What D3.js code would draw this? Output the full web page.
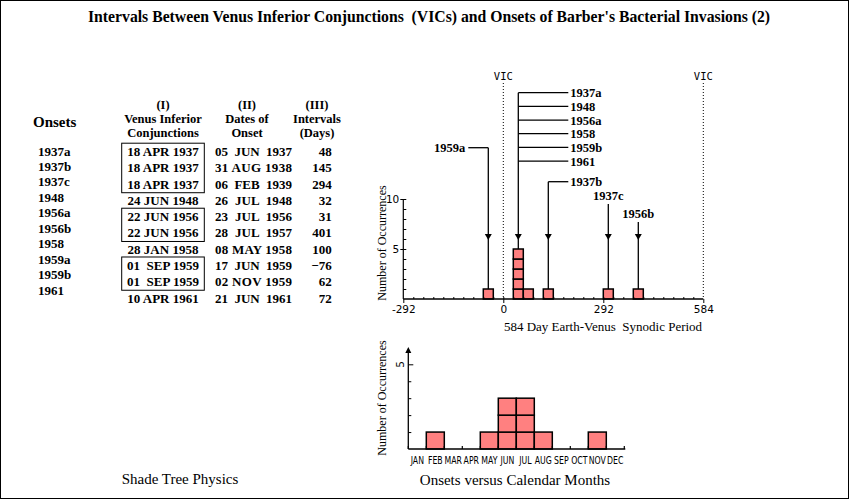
<!DOCTYPE html>
<html><head><meta charset="utf-8">
<script src="https://cdn.jsdelivr.net/npm/d3@7"></script>
<style>body{margin:0;background:#fff} svg{display:block} text{white-space:pre}</style>
</head><body><svg id="c" width="850" height="500"></svg>
<script>
// ---------- DATA ----------
const onsets      = ["1937a","1937b","1937c","1948","1956a","1956b","1958","1959a","1959b","1961"];
const vicDates    = ["18 APR 1937","18 APR 1937","18 APR 1937","24 JUN 1948","22 JUN 1956","22 JUN 1956","28 JAN 1958","01  SEP 1959","01  SEP 1959","10 APR 1961"];
const onsetDates  = ["05  JUN  1937","31 AUG 1938","06  FEB  1939","26  JUL  1948","23  JUL  1956","28  JUL  1957","08 MAY 1958","17  JUN  1959","02 NOV 1959","21  JUN  1961"];
const intervals   = [48,145,294,32,31,401,100,-76,62,72];

const synodicTicks = [-292, 0, 292, 584];
const vicDays      = [0, 584];
const binWidth     = 29.2;
const binStart     = [-58.4, 29.2, 58.4, 116.8, 292, 379.6];
const binCount     = [1, 5, 1, 1, 1, 1];
const binLabels    = [["1959a"], ["1937a","1948","1956a","1958","1959b","1961"], [], ["1937b"], ["1937c"], ["1956b"]];

const months      = ["JAN","FEB","MAR","APR","MAY","JUN","JUL","AUG","SEP","OCT","NOV","DEC"];
const monthCounts = [0,1,0,0,1,3,3,1,0,0,1,0];

// ---------- SETUP ----------
const svg = d3.select("#c");
const SERIF = "'Liberation Serif','Times New Roman',serif";
const SANS = "'DejaVu Sans',sans-serif";
const MONO = "'DejaVu Sans Mono',monospace";
const FILL = "#ff8080";

svg.append("rect").attr("x",0.5).attr("y",0.5).attr("width",848).attr("height",498)
  .attr("fill","none").attr("stroke","#000");

svg.append("text").attr("x",429).attr("y",22).attr("text-anchor","middle")
  .attr("font-family",SERIF).attr("font-weight","bold").attr("font-size",16)
  .attr("textLength",682).attr("lengthAdjust","spacingAndGlyphs")
  .text("Intervals Between Venus Inferior Conjunctions  (VICs) and Onsets of Barber's Bacterial Invasions (2)");

// ---------- TABLE ----------
const tbl = svg.append("g").attr("font-family",SERIF).attr("font-weight","bold");
const rowY = d3.scalePoint().domain(d3.range(onsets.length)).range([151.7, 298]);
const onsetY = d3.scalePoint().domain(d3.range(onsets.length)).range([151, 290]);

tbl.append("text").attr("x",33).attr("y",127).attr("font-size",15).text("Onsets");
const hdr = [
  {x:163, lines:["(I)","Venus Inferior","Conjunctions"]},
  {x:247, lines:["(II)","Dates of","Onset"]},
  {x:317, lines:["(III)","Intervals","(Days)"]}
];
hdr.forEach(h => h.lines.forEach((l,i) => {
  tbl.append("text").attr("x",h.x).attr("y",109 + i*14).attr("text-anchor","middle")
    .attr("font-size",12.5).text(l);
}));

tbl.selectAll("text.on").data(onsets).join("text").attr("class","on")
  .attr("x",38).attr("y",(d,i)=>onsetY(i)+4.5).attr("font-size",13).text(d=>d);
tbl.selectAll("text.vic").data(vicDates).join("text").attr("class","vic")
  .attr("x",163).attr("y",(d,i)=>rowY(i)+4.5).attr("text-anchor","middle").attr("font-size",13).text(d=>d);
tbl.selectAll("text.od").data(onsetDates).join("text").attr("class","od")
  .attr("x",253.5).attr("y",(d,i)=>rowY(i)+4.5).attr("text-anchor","middle").attr("font-size",13)
  .attr("textLength",77).attr("lengthAdjust","spacing").text(d=>d);
tbl.selectAll("text.iv").data(intervals).join("text").attr("class","iv")
  .attr("x",331.7).attr("y",(d,i)=>rowY(i)+4.5).attr("text-anchor","end").attr("font-size",13)
  .text(d=> d<0 ? "\u2212"+(-d) : String(d));

// boxes around repeated VIC dates
const runs = [];
vicDates.forEach((d,i) => {
  if (i>0 && vicDates[i-1]===d) runs[runs.length-1].end = i;
  else runs.push({start:i,end:i});
});
runs.filter(r=>r.end>r.start).forEach(r => {
  tbl.append("rect").attr("x",121.7).attr("width",82.6)
    .attr("y",rowY(r.start)-8.5).attr("height",rowY(r.end)-rowY(r.start)+17)
    .attr("fill","none").attr("stroke","#000").attr("stroke-width",1);
});

// ---------- TOP CHART ----------
const topX = d3.scaleLinear().domain([-292,584]).range([403.3,703.3]);
const topY = d3.scaleLinear().domain([0,10]).range([299,199]);
const topG = svg.append("g");

// VIC dotted lines
vicDays.forEach(v => {
  topG.append("line").attr("x1",topX(v)).attr("x2",topX(v)).attr("y1",83).attr("y2",topY(0))
    .attr("stroke","#000").attr("stroke-dasharray","1,2");
  topG.append("text").attr("x",topX(v)).attr("y",80).attr("text-anchor","middle")
    .attr("font-family",MONO).attr("font-size",10.5).text("VIC");
});

// bars (unit squares)
binStart.forEach((s,bi) => {
  for (let k=0;k<binCount[bi];k++){
    topG.append("rect").attr("x",topX(s)).attr("width",topX(s+binWidth)-topX(s))
      .attr("y",topY(k+1)).attr("height",topY(k)-topY(k+1))
      .attr("fill",FILL).attr("stroke","#000").attr("stroke-width",1.5);
  }
});

// axes
topG.append("line").attr("x1",topX(-292)).attr("x2",topX(584)).attr("y1",topY(0)).attr("y2",topY(0))
  .attr("stroke","#000").attr("stroke-width",1.5);
const xMinor = d3.axisTop(topX).tickValues(d3.range(-9,20).map(k=>k*binWidth)).tickSize(2).tickFormat("");
topG.append("g").attr("transform",`translate(0,${topY(0)})`).call(xMinor).call(g=>g.select(".domain").remove());
const xMajor = d3.axisBottom(topX).tickValues(synodicTicks).tickSize(4).tickPadding(3).tickFormat(d=>String(d));
topG.append("g").attr("transform",`translate(0,${topY(0)})`).call(xMajor)
  .call(g=>g.select(".domain").remove())
  .call(g=>g.selectAll("text").attr("font-family",SANS).attr("font-size",10.5).attr("fill","#000"));

topG.append("line").attr("x1",topX(-292)).attr("x2",topX(-292)).attr("y1",topY(0)).attr("y2",topY(10))
  .attr("stroke","#000").attr("stroke-width",1.2);
const yMinor = d3.axisRight(topY).tickValues(d3.range(1,11)).tickSize(3).tickFormat("");
topG.append("g").attr("transform",`translate(${topX(-292)},0)`).call(yMinor).call(g=>g.select(".domain").remove());
const yMajor = d3.axisLeft(topY).tickValues([5,10]).tickSize(3).tickPadding(1).tickFormat(d=>String(d));
topG.append("g").attr("transform",`translate(${topX(-292)},0)`).call(yMajor)
  .call(g=>g.select(".domain").remove())
  .call(g=>g.selectAll("text").attr("font-family",SANS).attr("font-size",10.5).attr("fill","#000"));

topG.append("text").attr("transform","translate(386,243) rotate(-90)").attr("text-anchor","middle")
  .attr("font-family",SERIF).attr("font-size",12).text("Number of Occurrences");
topG.append("text").attr("x",603).attr("y",331).attr("text-anchor","middle")
  .attr("font-family",SERIF).attr("font-size",13).text("584 Day Earth-Venus  Synodic Period");

// callouts
const ARROW_TIP = 240;
const lbl = (x,y,t,anchor) => topG.append("text").attr("x",x).attr("y",y).attr("text-anchor",anchor)
  .attr("font-family",SERIF).attr("font-weight","bold").attr("font-size",12.5).text(t);
const ln = (x1,y1,x2,y2) => topG.append("line").attr("x1",x1).attr("y1",y1).attr("x2",x2).attr("y2",y2)
  .attr("stroke","#000").attr("stroke-width",1.3);
const arrow = x => topG.append("path")
  .attr("d",`M${x-3.5},${ARROW_TIP-6}L${x+3.5},${ARROW_TIP-6}L${x},${ARROW_TIP}Z`).attr("fill","#000");

binLabels.forEach((labels,bi) => {
  if (!labels.length) return;
  const x = topX(binStart[bi]+binWidth/2);
  const yBar = topY(binCount[bi]);
  let yTop;
  if (labels.length > 1) {            // bracket to the right
    yTop = 92.7;
    labels.forEach((t,i) => {
      const y = yTop + i*13.67;
      ln(x,y,x+50,y); lbl(x+52,y+4.5,t,"start");
    });
  } else if (binStart[bi] < 0) {      // elbow to the left
    yTop = 147.7; ln(x-20,yTop,x,yTop); lbl(x-23,yTop+4.5,labels[0],"end");
  } else if (binStart[bi] < 200) {    // elbow to the right
    yTop = 181.7; ln(x,yTop,x+20,yTop); lbl(x+22,yTop+4.5,labels[0],"start");
  } else {                            // label on top
    const base = binStart[bi] < 350 ? 200 : 218;
    lbl(x,base,labels[0],"middle"); yTop = base + 4;
  }
  ln(x,yTop,x,yBar); arrow(x);
});

// ---------- BOTTOM CHART ----------
const botX = d3.scaleBand().domain(months).range([408.3,624.3]);
const botY = d3.scaleLinear().domain([0,5]).range([449,364.3]);
const bot = svg.append("g");

months.forEach((m,i) => {
  for (let k=0;k<monthCounts[i];k++){
    bot.append("rect").attr("x",botX(m)).attr("width",botX.bandwidth())
      .attr("y",botY(k+1)).attr("height",botY(k)-botY(k+1))
      .attr("fill",FILL).attr("stroke","#000").attr("stroke-width",1.5);
  }
});
bot.append("line").attr("x1",botX.range()[0]).attr("x2",botX.range()[1]+1).attr("y1",botY(0)).attr("y2",botY(0))
  .attr("stroke","#000").attr("stroke-width",1.5);
const bx0 = botX.range()[0];
d3.range(months.length+1).forEach(i => {
  const x = bx0 + i*botX.bandwidth();
  bot.append("line").attr("x1",x).attr("x2",x).attr("y1",botY(0)).attr("y2",botY(0)-3)
    .attr("stroke","#000").attr("stroke-width",1.2);
});
bot.selectAll("text.m").data(months).join("text").attr("class","m")
  .attr("transform",d=>`translate(${botX(d)+botX.bandwidth()/2},464) scale(0.78,1)`).attr("text-anchor","middle")
  .attr("font-family",SANS).attr("font-size",10)
  .text(d=>d);

bot.append("line").attr("x1",bx0).attr("x2",bx0).attr("y1",botY(0)).attr("y2",351)
  .attr("stroke","#000").attr("stroke-width",1.3);
bot.append("path").attr("d",`M${bx0-3},${353}L${bx0+3},${353}L${bx0},${347}Z`).attr("fill","#000");
const byAx = d3.axisRight(botY).tickValues(d3.range(1,6)).tickSize(3).tickFormat("");
bot.append("g").attr("transform",`translate(${bx0},0)`).call(byAx).call(g=>g.select(".domain").remove())
  .call(g=>g.selectAll(".tick line").filter(d=>d===5).attr("x2",5));
bot.append("text").attr("transform",`translate(${bx0-4},${botY(5)}) rotate(-90)`).attr("text-anchor","middle")
  .attr("font-family",SANS).attr("font-size",10.5).text("5");

bot.append("text").attr("transform","translate(386,398) rotate(-90)").attr("text-anchor","middle")
  .attr("font-family",SERIF).attr("font-size",12).text("Number of Occurrences");
bot.append("text").attr("x",515).attr("y",485).attr("text-anchor","middle")
  .attr("font-family",SERIF).attr("font-size",15).text("Onsets versus Calendar Months");

svg.append("text").attr("x",180).attr("y",484).attr("text-anchor","middle")
  .attr("font-family",SERIF).attr("font-size",15).text("Shade Tree Physics");
</script></body></html>
